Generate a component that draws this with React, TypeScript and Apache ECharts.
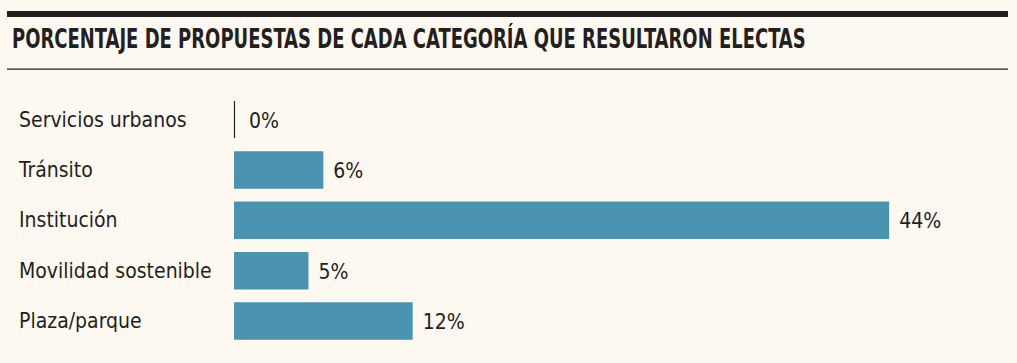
import React, { useEffect, useRef } from "react";
import * as echarts from "echarts";

const categories = ["Servicios urbanos", "Tránsito", "Institución", "Movilidad sostenible", "Plaza/parque"];
const values = [0, 6, 44, 5, 12];
const titleText = "PORCENTAJE DE PROPUESTAS DE CADA CATEGORÍA QUE RESULTARON ELECTAS";

const FONT = "'DejaVu Sans Condensed', 'Liberation Sans Narrow', sans-serif";
const BG = "#fdf8f0";
const INK = "#231f20";
const BAR = "#4a93b1";

export default function App() {
  const ref = useRef<HTMLDivElement>(null);
  useEffect(() => {
    document.body.style.margin = "0";
    document.body.style.background = BG;
    const chart = echarts.init(ref.current!, null, { renderer: "svg" });
    chart.setOption({
      animation: false,
      backgroundColor: BG,
      graphic: [
        { type: "rect", shape: { x: 7, y: 11, width: 1001, height: 6 }, style: { fill: INK } },
        { type: "rect", shape: { x: 7, y: 68.5, width: 1001, height: 1.2 }, style: { fill: INK } },
        {
          type: "text",
          x: 12,
          y: 39,
          scaleX: 0.74,
          style: {
            text: titleText,
            fontFamily: FONT,
            fontWeight: "bold",
            fontSize: 27,
            fill: INK,
            textAlign: "left",
            textVerticalAlign: "middle",
          },
        },
      ],
      grid: { left: 234, right: 38.5, top: 94.3, bottom: 16.7, containLabel: false },
      xAxis: { type: "value", min: 0, max: 50, show: false },
      yAxis: {
        type: "category",
        data: categories,
        inverse: true,
        axisLine: { show: false },
        axisTick: { show: false },
        axisLabel: {
          align: "left",
          margin: 215,
          fontFamily: FONT,
          fontSize: 21,
          color: INK,
        },
      },
      series: [
        {
          type: "bar",
          data: values.map((v) => (v === 0 ? { value: v, label: { distance: 15 } } : v)),
          barWidth: 37.5,
          itemStyle: { color: BAR },
          label: {
            show: true,
            position: "right",
            distance: 10,
            offset: [0, 1],
            formatter: "{c}%",
            fontFamily: FONT,
            fontSize: 21,
            color: INK,
          },
        },
        {
          type: "custom",
          data: values.map((v, i) => [v, i]),
          silent: true,
          renderItem: (params: any, api: any) => {
            const v = api.value(0);
            if (v !== 0) return null;
            const p = api.coord([0, api.value(1)]);
            return {
              type: "line",
              shape: { x1: p[0] + 0.5, y1: p[1] - 18.5, x2: p[0] + 0.5, y2: p[1] + 18.5 },
              style: { stroke: INK, lineWidth: 1.2 },
            };
          },
        },
      ],
    });
    return () => chart.dispose();
  }, []);
  return <div ref={ref} style={{ width: 1017, height: 363 }} />;
}
